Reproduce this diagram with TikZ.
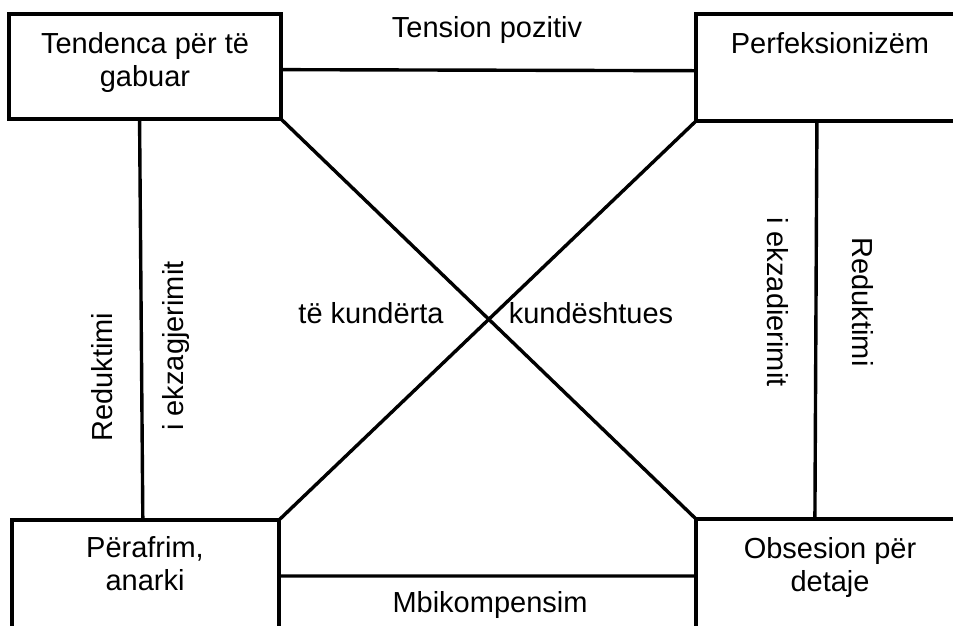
\documentclass[tikz,border=0pt]{standalone}
\usepackage{fontspec}
\setmainfont{Liberation Sans}
\usetikzlibrary{calc}
\begin{document}
\begin{tikzpicture}[x=1pt,y=-1pt,
  box/.style={draw, line width=3.5pt, rectangle, inner sep=0pt, outer sep=0pt,
    anchor=north west, minimum width=#1, minimum height=107pt},
  box/.default=290pt,
  txt/.style={font=\fontsize{29}{33}\selectfont, inner sep=0pt, align=center},
  link/.style={line width=3.4pt, line cap=butt}]
\useasboundingbox (0,0) rectangle (953,626);
\clip (0,0) rectangle (953,626);

% four corner boxes (right and bottom ones run past the page edge)
\node[box=272pt, minimum height=105pt] (tl) at (9,14) {};
\node[box] (tr) at (696,14) {};
\node[box=267pt, minimum height=125pt] (bl) at (12,520) {};
\node[box, minimum height=125pt] (br) at (696,519) {};

% box texts
\node[txt, anchor=north] (tlt) at (145,32) {Tendenca për të\\gabuar};
\node[txt, anchor=north] (trt) at (830,32) {Perfeksionizëm};
\node[txt, anchor=north] (blt) at (145,536) {Përafrim,\\anarki};
\node[txt, anchor=north] (brt) at (830,537) {Obsesion për\\detaje};

% connectors
\draw[link] ($(tl.north east)!0.53!(tl.south east)$) -- ($(tr.north west)!0.53!(tr.south west)$);
\draw[link] ($(bl.north east)!0.448!(bl.south east)$) -- ($(br.north west)!0.456!(br.south west)$);
\draw[link] ($(tl.south west)!0.48!(tl.south east)$) -- ($(bl.north west)!0.49!(bl.north east)$);
\draw[link] ($(tr.south west)!0.417!(tr.south east)$) -- ($(br.north west)!0.41!(br.north east)$);
\draw[link] (tl.south east) -- (br.north west);
\draw[link] (tr.south west) -- (bl.north east);

% connector labels
\node[txt, anchor=base] (l1) at (487,38) {Tension pozitiv};
\node[txt, anchor=base] (l2) at (490,612) {Mbikompensim};
\node[txt, anchor=base] (l3) at (371,323) {të kundërta};
\node[txt, anchor=base] (l4) at (591,323) {kundështues};
\node[txt, anchor=base, rotate=90] (l5) at (112,377) {Reduktimi};
\node[txt, anchor=base, rotate=90] (l6) at (183,346) {i ekzagjerimit};
\node[txt, anchor=base, rotate=-90] (l7) at (767,302) {i ekzadierimit};
\node[txt, anchor=base, rotate=-90] (l8) at (852,302) {Reduktimi};
\end{tikzpicture}
\end{document}
